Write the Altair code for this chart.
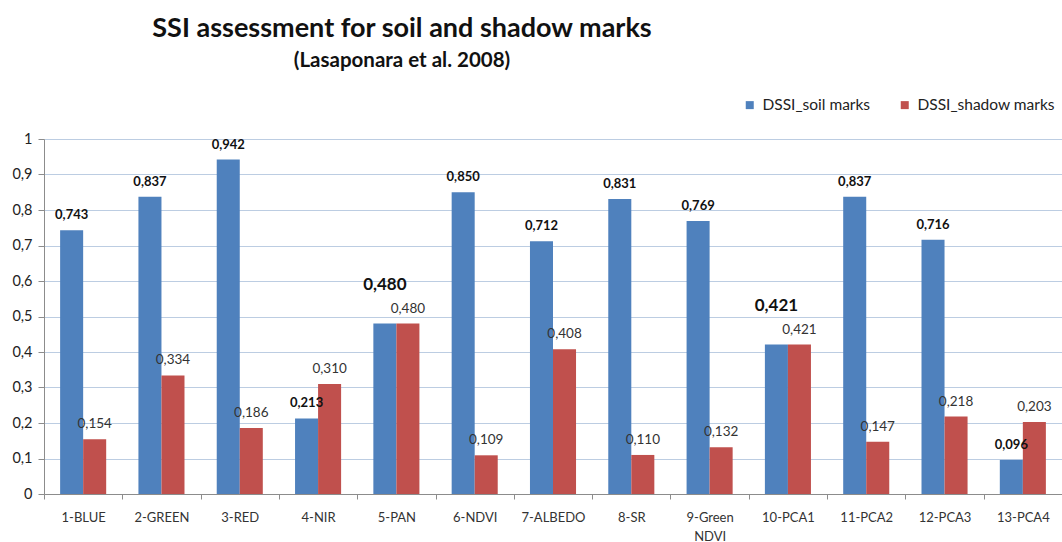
import altair as alt
import pandas as pd

# Band / index names and their DSSI values
bands = ["1-BLUE", "2-GREEN", "3-RED", "4-NIR", "5-PAN", "6-NDVI", "7-ALBEDO",
         "8-SR", "9-Green NDVI", "10-PCA1", "11-PCA2", "12-PCA3", "13-PCA4"]
soil_marks = [0.743, 0.837, 0.942, 0.213, 0.480, 0.850, 0.712,
              0.831, 0.769, 0.421, 0.837, 0.716, 0.096]
shadow_marks = [0.154, 0.334, 0.186, 0.310, 0.480, 0.109, 0.408,
                0.110, 0.132, 0.421, 0.147, 0.218, 0.203]
y_ticks = [0, 0.1, 0.2, 0.3, 0.4, 0.5, 0.6, 0.7, 0.8, 0.9, 1]
series_names = ["DSSI_soil marks", "DSSI_shadow marks"]
series_colors = ["#4F81BD", "#C0504D"]

rows = []
for b, s, h in zip(bands, soil_marks, shadow_marks):
    rows.append({"band": b, "series": series_names[0], "value": s})
    rows.append({"band": b, "series": series_names[1], "value": h})
df = pd.DataFrame(rows)

FONT = "Lato"
# soil labels that are printed larger and lifted clear of the neighbouring label
BIG = "indexof(['5-PAN', '10-PCA1'], datum.band) >= 0"

x_enc = alt.X(
    "band:N", sort=bands, title=None,
    scale=alt.Scale(paddingInner=0, paddingOuter=0),
    axis=alt.Axis(labelAngle=0, labelExpr="split(datum.label, ' ')",
                  tickBand="extent", ticks=True, tickSize=5, grid=False,
                  domainColor="#8c8c8c", tickColor="#8c8c8c",
                  labelFontSize=13, labelColor="#333333", labelFont=FONT,
                  labelPadding=12, labelLineHeight=19),
)
y_enc = alt.Y(
    "value:Q", title=None,
    scale=alt.Scale(domain=[0, 1], nice=False, zero=True),
    axis=alt.Axis(values=y_ticks, tickCount=11, labelOverlap=False,
                  labelExpr="replace(format(datum.value, '.1~f'), '.', ',')",
                  grid=True, gridColor="#bccde2", gridWidth=1.2,
                  domainColor="#8c8c8c", tickColor="#8c8c8c", tickSize=6,
                  labelFontSize=14.5, labelColor="#222222", labelFont=FONT,
                  labelPadding=6),
)
offset_enc = alt.XOffset("series:N", sort=series_names,
                         scale=alt.Scale(paddingOuter=0.7, paddingInner=0))
color_enc = alt.Color(
    "series:N", sort=series_names,
    scale=alt.Scale(domain=series_names, range=series_colors),
    legend=alt.Legend(title=None, orient="none", direction="horizontal",
                      legendX=698, legendY=-42, symbolType="square",
                      symbolSize=64, symbolStrokeWidth=0, labelFont=FONT,
                      labelFontSize=15.5, labelColor="#222222",
                      columnPadding=26, labelOffset=5),
)

bars = alt.Chart(df).mark_bar().encode(
    x=x_enc, y=y_enc, xOffset=offset_enc, color=color_enc
)

labelled = alt.Chart(df).transform_calculate(
    txt="replace(format(datum.value, '.3f'), '.', ',')"
)
label_enc = dict(x=x_enc, y=y_enc, xOffset=offset_enc, text="txt:N")
soil = labelled.transform_filter(alt.datum.series == series_names[0])

soil_labels = soil.transform_filter("!(" + BIG + ")").mark_text(
    baseline="bottom", dy=-8, font=FONT, fontWeight="bold", fontSize=13,
    color="#111111").encode(**label_enc)

soil_labels_big = soil.transform_filter(BIG).mark_text(
    baseline="bottom", dy=-30, font=FONT, fontWeight="bold", fontSize=17,
    color="#111111").encode(**label_enc)

shadow_labels = labelled.transform_filter(
    alt.datum.series == series_names[1]
).mark_text(baseline="bottom", dy=-8, font=FONT, fontSize=13.5,
            color="#333333").encode(**label_enc)

chart = alt.layer(bars, soil_labels, soil_labels_big, shadow_labels).properties(
    width=1018,
    height=355,
    autosize=alt.AutoSizeParams(type="none"),
    padding={"left": 44, "top": 139, "right": 0, "bottom": 48},
    title=alt.TitleParams(
        text="SSI assessment for soil and shadow marks",
        subtitle="(Lasaponara et al. 2008)",
        anchor="middle", dx=-151, offset=25,
        font=FONT, fontSize=27, fontWeight="bold", color="#111111",
        subtitleFont=FONT, subtitleFontSize=20.5, subtitleFontWeight="bold",
        subtitleColor="#111111", subtitlePadding=8,
    ),
).configure_view(stroke=None).configure(background="white")

chart.save("out.html", embed_options={"renderer": "svg", "actions": False})
